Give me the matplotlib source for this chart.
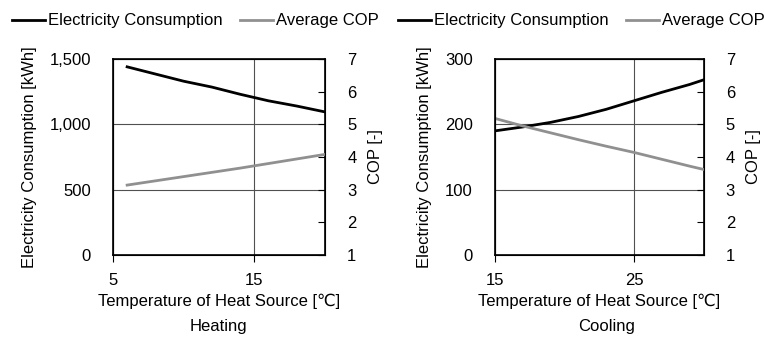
import matplotlib
matplotlib.use("Agg")
import matplotlib.pyplot as plt
from matplotlib.lines import Line2D

plt.rcParams['font.family'] = ['Liberation Sans', 'DejaVu Sans']
plt.rcParams['font.size'] = 12

# Heating data
heat_temp = [6, 8, 10, 12, 14, 16, 18, 20]
heat_elec = [1440, 1385, 1330, 1285, 1230, 1180, 1140, 1095]
heat_cop = [3.14, 3.27, 3.40, 3.53, 3.66, 3.80, 3.94, 4.08]

# Cooling data
cool_temp = [15, 17, 19, 21, 23, 25, 27, 29, 30]
cool_elec = [190, 196, 203, 212, 223, 236, 249, 261, 268]
cool_cop = [5.18, 4.95, 4.74, 4.53, 4.33, 4.14, 3.93, 3.72, 3.62]

W, H = 764, 338
panels = [
    dict(temp=heat_temp, elec=heat_elec, cop=heat_cop, xlim=(5, 20), xticks=[5, 15],
         ylim=(0, 1500), yticks=[0, 500, 1000, 1500], title="Heating",
         rect=[113/W, 1-255/H, 212/W, 196/H], fmt=lambda v: f"{v:,.0f}",
         title_x=218/W, leg_x=12/W),
    dict(temp=cool_temp, elec=cool_elec, cop=cool_cop, xlim=(15, 30), xticks=[15, 25],
         ylim=(0, 300), yticks=[0, 100, 200, 300], title="Cooling",
         rect=[495/W, 1-255/H, 208.5/W, 196/H], fmt=lambda v: f"{v:.0f}",
         title_x=607/W, leg_x=398/W),
]

fig = plt.figure(figsize=(7.64, 3.38), dpi=100)

for p in panels:
    ax = fig.add_axes(p["rect"])
    ax.plot(p["temp"], p["elec"], color="black", lw=2)
    ax.set_xlim(*p["xlim"])
    ax.set_ylim(*p["ylim"])
    ax.set_xticks(p["xticks"])
    ax.set_yticks(p["yticks"])
    ax.set_yticklabels([p["fmt"](v) for v in p["yticks"]])
    ax.grid(True, color="#505050", lw=0.8)
    ax.set_axisbelow(True)
    ax.tick_params(axis='y', length=0, pad=16)
    ax.tick_params(axis='x', direction='out', length=5, width=0.8, pad=8)
    for s in ax.spines.values():
        s.set_linewidth(1.2)
    ax.set_xlabel("Temperature of Heat Source [\u2103]", labelpad=4)
    ax.set_ylabel("Electricity Consumption [kWh]", labelpad=9)

    ax2 = ax.twinx()
    ax2.plot(p["temp"], p["cop"], color="#909090", lw=2)
    ax2.set_ylim(1, 7)
    ax2.set_yticks([1, 2, 3, 4, 5, 6, 7])
    ax2.tick_params(axis='y', direction='in', length=5, width=0.8, pad=16)
    ax2.set_ylabel("COP [-]", labelpad=8)

    fig.text(p["title_x"], 1 - 326/H, p["title"], ha="center", va="center")

    handles = [Line2D([], [], color="black", lw=2), Line2D([], [], color="#909090", lw=2)]
    fig.legend(handles, ["Electricity Consumption", "Average COP"],
               loc="center left", bbox_to_anchor=(p["leg_x"], 1 - 21/H),
               ncol=2, frameon=False, handlelength=2.0, handletextpad=0.15,
               columnspacing=1.05, borderpad=0, borderaxespad=0)

fig.savefig("out.png", dpi=100)
